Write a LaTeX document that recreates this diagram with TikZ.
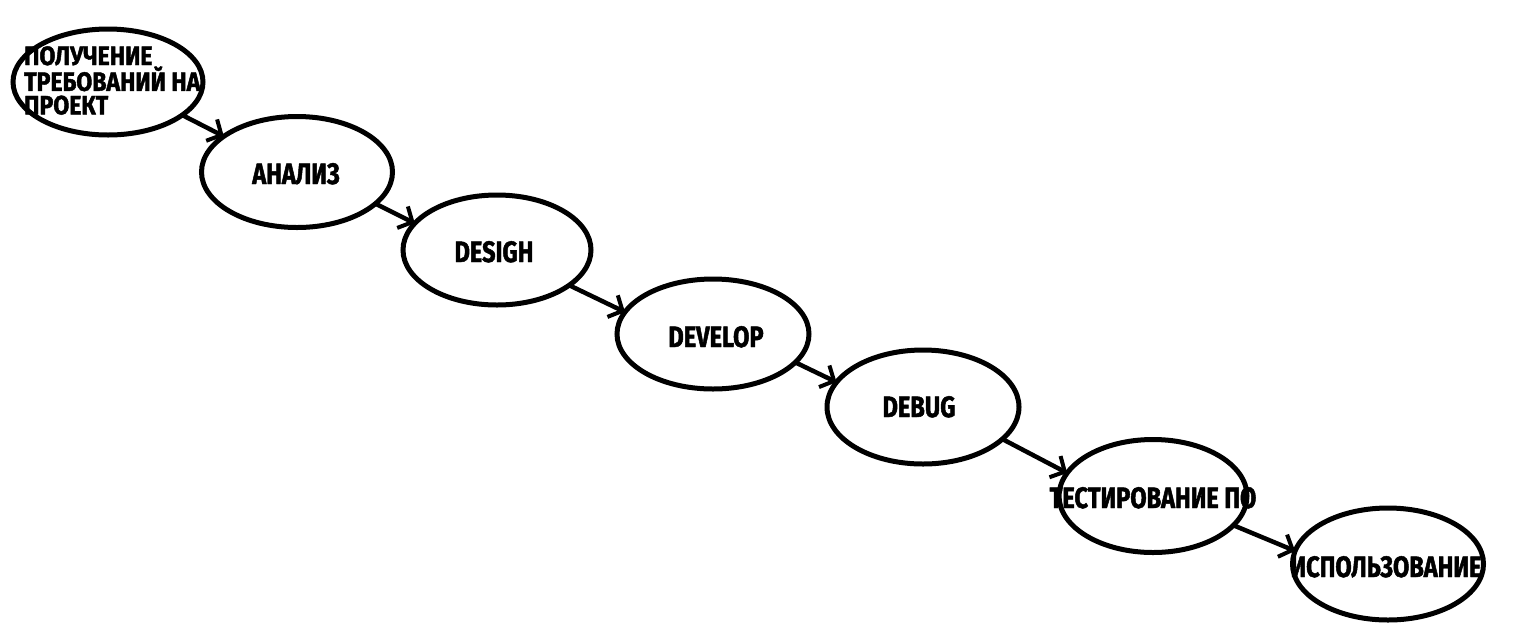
\documentclass[tikz,border=0pt]{standalone}
\usepackage{fontspec}
\setmainfont{Fira Sans}[FakeStretch=0.8, BoldFeatures={FakeBold=1.6}]
\newfontfamily\widefont{Fira Sans}[FakeStretch=0.87, BoldFeatures={FakeBold=1.6}]
\usetikzlibrary{arrows.meta,shapes.geometric}
\tikzset{
  stage/.style={ellipse, draw=black, line width=5pt, inner sep=0pt, outer sep=0pt},
  lbl/.style={font=\bfseries\fontsize{29.5}{23}\selectfont, inner sep=0pt, anchor=base},
  flow/.style={line width=4.5pt, -{Straight Barb[length=11pt,width=24pt,line width=4pt]}}
}
\begin{document}
\begin{tikzpicture}[x=1pt,y=-1pt]
\useasboundingbox (0,0) rectangle (1523,641);
\node[stage, minimum width=190, minimum height=106] (e1) at (108,82) {};
\node[stage, minimum width=191, minimum height=111] (e2) at (297,172) {};
\node[stage, minimum width=188, minimum height=110] (e3) at (497,250) {};
\node[stage, minimum width=192, minimum height=110] (e4) at (713,334) {};
\node[stage, minimum width=192, minimum height=114] (e5) at (923,407) {};
\node[stage, minimum width=188, minimum height=113] (e6) at (1153,496) {};
\node[stage, minimum width=191, minimum height=112] (e7) at (1388,564) {};

\node[font=\widefont\bfseries\fontsize{26.5}{23.5}\selectfont, inner sep=0pt, align=left, anchor=north west] (t1) at (24,46) {ПОЛУЧЕНИЕ\\ТРЕБОВАНИЙ НА\\ПРОЕКТ};
\node[lbl] (t2) at (296,184) {АНАЛИЗ};
\node[lbl] (t3) at (494,262) {DESIGH};
\node[lbl] (t4) at (716,347) {DEVELOP};
\node[lbl] (t5) at (919,417) {DEBUG};
\node[lbl] (t6) at (1153,508) {ТЕСТИРОВАНИЕ ПО};
\node[lbl] (t7) at (1386,577) {ИСПОЛЬЗОВАНИЕ};

\draw[flow] (e1.-24) -- (e2.154);
\draw[flow] (e2.-22) -- (e3.162);
\draw[flow] (e3.-26) -- (e4.166);
\draw[flow] (e4.-19) -- (e5.164);
\draw[flow] (e5.-22) -- (e6.165);
\draw[flow] (e6.-20) -- (e7.172);
\end{tikzpicture}
\end{document}
